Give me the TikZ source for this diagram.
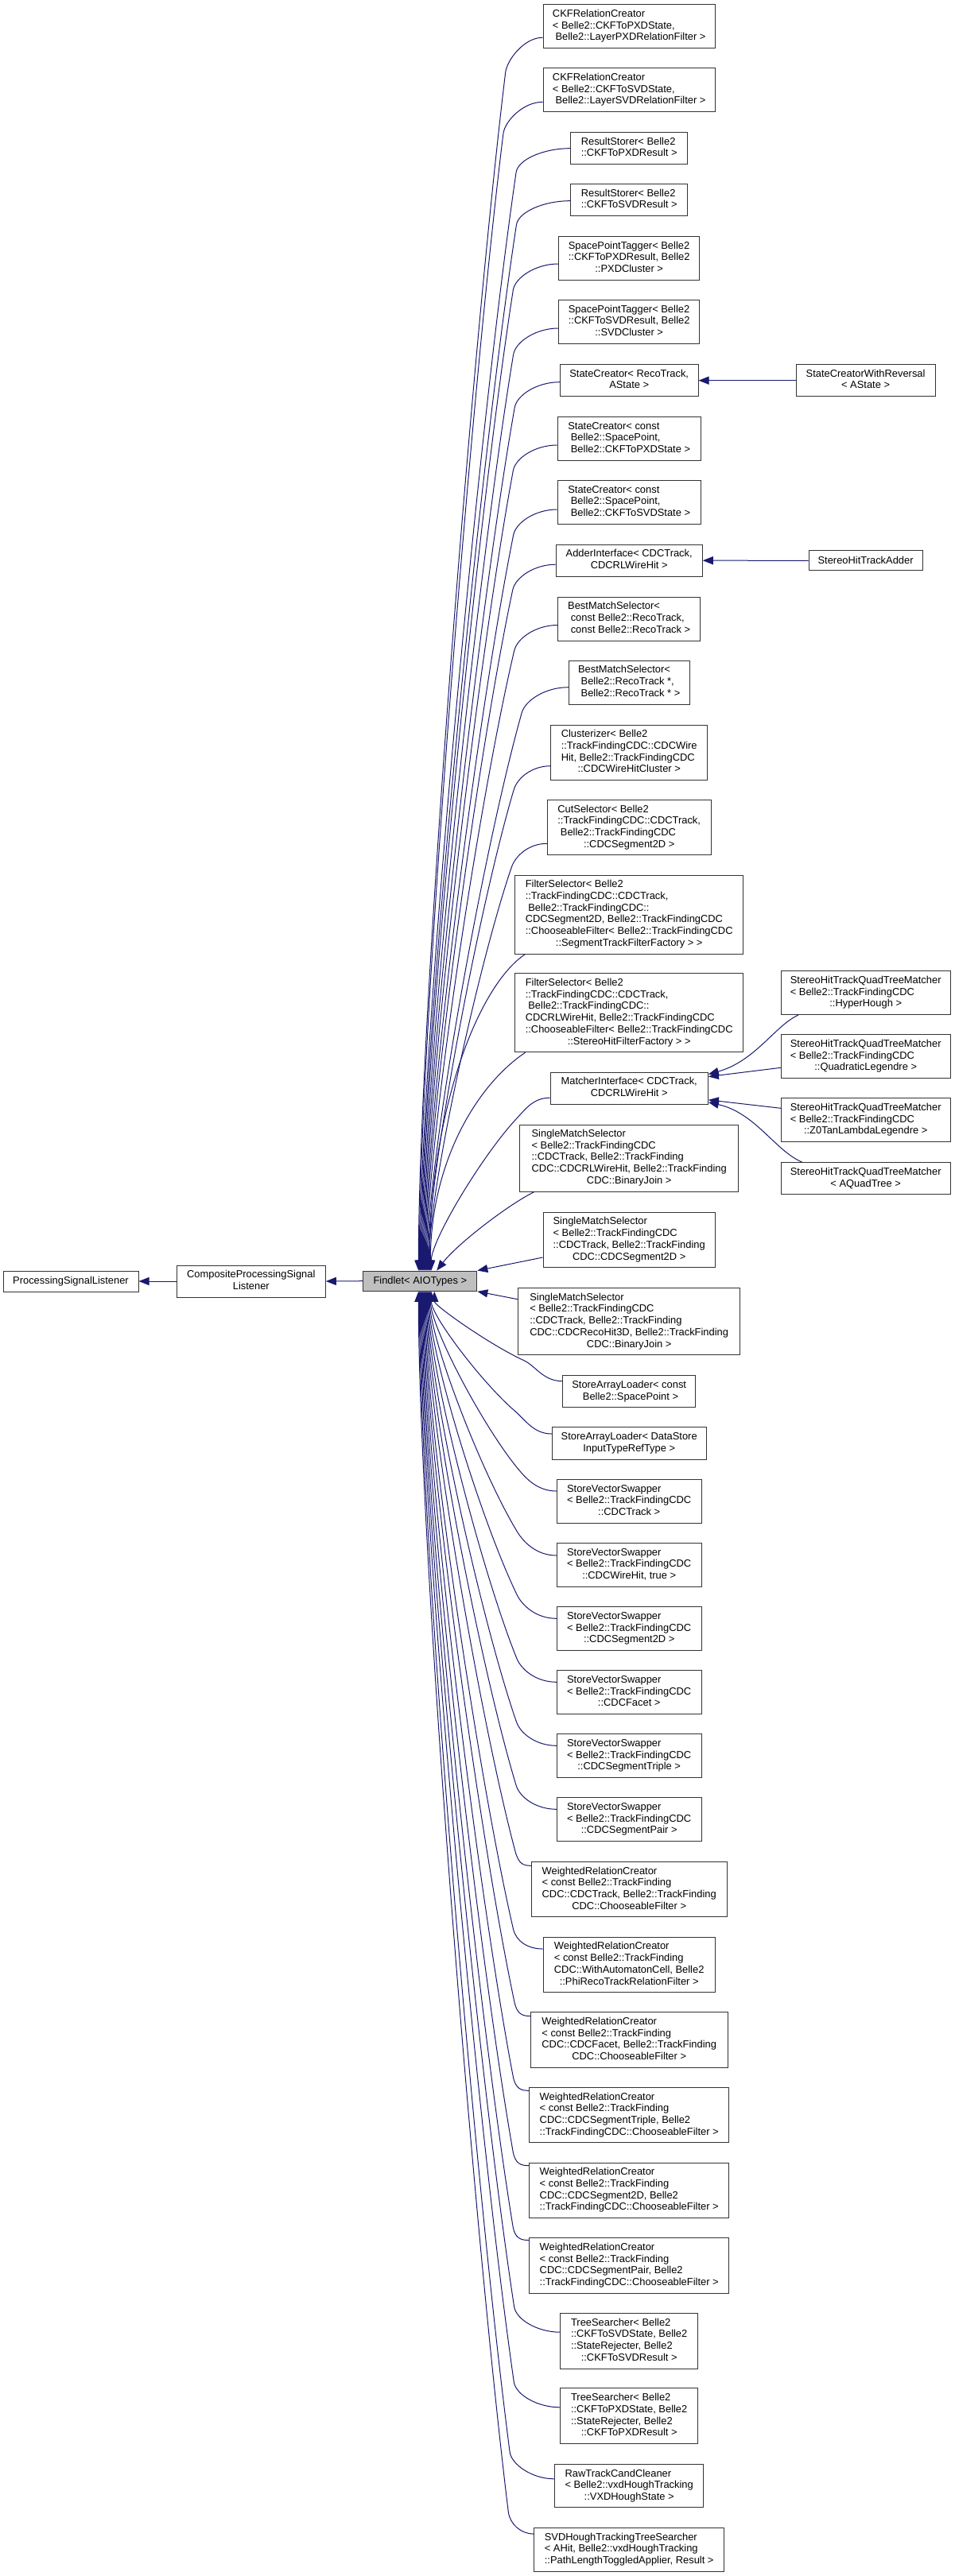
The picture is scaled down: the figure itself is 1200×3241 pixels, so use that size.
\documentclass[tikz,border=0pt]{standalone}
\usepackage{fontspec}
\setmainfont{Liberation Sans}
\usetikzlibrary{arrows.meta,calc}
\definecolor{edgec}{HTML}{191970}
\definecolor{boxline}{HTML}{333333}
\definecolor{mainfill}{HTML}{BFBFBF}
\newcommand{\dlab}[2]{\begin{tabular}{@{}l@{}}#1\\\multicolumn{1}{@{}c@{}}{#2}\end{tabular}}
% edge from a child (start #1) to Findlet (end #2): short bend (fraction #3 of the horizontal gap, vertical #4), then a long sweep arriving vertically
\newcommand{\famedge}[4]{\draw[inh] let \p1=(#1), \p2=(#2),
  \p3=({\x1-#3*(\x1-\x2)},{\y1+(#4)}),
  \p4=(\x2,{\y3+0.6*(\y2-\y3)}),
  \n1={veclen(\x4-\x3,\y4-\y3)}
  in (\p1) .. controls ({\x1-0.5*#3*(\x1-\x2)},\y1) and ({\x3-16*(\x4-\x3)/\n1},{\y3-16*(\y4-\y3)/\n1}) .. (\p3)
  .. controls ({\x3+0.4*(\x4-\x3)},{\y3+0.4*(\y4-\y3)}) and (\x2,{\y3+0.8*(\y2-\y3)}) .. (\p2);}
\newcommand{\fsedge}[2]{\draw[inh] let \p1=(#1), \p2=(#2) in (\p1) .. controls ({\x1-60pt},{\y1-40pt}) and (\x2,{0.5*(\y1+\y2)}) .. (\p2);}
\tikzset{
  box/.style={draw=boxline, fill=white, line width=1pt, inner sep=0pt, font=\fontsize{12.9}{14.7}\selectfont},
  inh/.style={draw=edgec, line width=1pt, -{Triangle[length=13pt,width=10pt,fill=edgec]}},
}
\begin{document}
\begin{tikzpicture}[x=1pt,y=-1pt]
\fill[white] (0,0) rectangle (1200,3241);
\useasboundingbox (0,0) rectangle (1200,3241);

% left chain
\node[box,minimum width=170pt,minimum height=26pt] (psl) at (89,1612) {ProcessingSignalListener};
\node[box,minimum width=187.1pt,minimum height=40pt] (cpsl) at (315.8,1612) {\dlab{CompositeProcessingSignal}{Listener}};
\node[box,fill=mainfill,minimum width=143.1pt,minimum height=25.3pt] (findlet) at (528.3,1611.7) {Findlet< AIOTypes >};

% column of derived classes
\node[box,minimum width=216.3pt,minimum height=55pt] (ckfP) at (791.2,33.2) {\dlab{CKFRelationCreator\\< Belle2::CKFToPXDState,}{~Belle2::LayerPXDRelationFilter >}};
\node[box,minimum width=216.3pt,minimum height=55pt] (ckfS) at (791.2,113.3) {\dlab{CKFRelationCreator\\< Belle2::CKFToSVDState,}{~Belle2::LayerSVDRelationFilter >}};
\node[box,minimum width=147.3pt,minimum height=40pt] (rsP) at (791.2,186.7) {\dlab{ResultStorer< Belle2}{::CKFToPXDResult >}};
\node[box,minimum width=147.3pt,minimum height=40pt] (rsS) at (791.2,251.7) {\dlab{ResultStorer< Belle2}{::CKFToSVDResult >}};
\node[box,minimum width=177.5pt,minimum height=54.7pt] (sptP) at (791.2,325) {\dlab{SpacePointTagger< Belle2\\::CKFToPXDResult, Belle2}{::PXDCluster >}};
\node[box,minimum width=177.5pt,minimum height=54.7pt] (sptS) at (791.2,405) {\dlab{SpacePointTagger< Belle2\\::CKFToSVDResult, Belle2}{::SVDCluster >}};
\node[box,minimum width=173.7pt,minimum height=40pt] (scR) at (791.2,478.7) {\dlab{StateCreator< RecoTrack,}{AState >}};
\node[box,minimum width=180.3pt,minimum height=54.7pt] (scP) at (791.2,552) {\dlab{StateCreator< const\\~Belle2::SpacePoint,}{~Belle2::CKFToPXDState >}};
\node[box,minimum width=180.3pt,minimum height=54.7pt] (scS) at (791.2,632) {\dlab{StateCreator< const\\~Belle2::SpacePoint,}{~Belle2::CKFToSVDState >}};
\node[box,minimum width=184.1pt,minimum height=40pt] (adder) at (791.2,705.2) {\dlab{AdderInterface< CDCTrack,}{CDCRLWireHit >}};
\node[box,minimum width=179.1pt,minimum height=55pt] (bmsC) at (791.2,778.5) {\dlab{BestMatchSelector<\\~const Belle2::RecoTrack,}{~const Belle2::RecoTrack >}};
\node[box,minimum width=151.9pt,minimum height=54.7pt] (bmsP) at (791.2,858.7) {\dlab{BestMatchSelector<\\~Belle2::RecoTrack *,}{~Belle2::RecoTrack * >}};
\node[box,minimum width=196.7pt,minimum height=69.3pt] (clus) at (791.2,946.7) {\dlab{Clusterizer< Belle2\\::TrackFindingCDC::CDCWire\\Hit, Belle2::TrackFindingCDC}{::CDCWireHitCluster >}};
\node[box,minimum width=205.9pt,minimum height=69.3pt] (cut) at (791.2,1041.3) {\dlab{CutSelector< Belle2\\::TrackFindingCDC::CDCTrack,\\~Belle2::TrackFindingCDC}{::CDCSegment2D >}};
\node[box,minimum width=287.4pt,minimum height=99pt] (fsS) at (791.2,1150.5) {\dlab{FilterSelector< Belle2\\::TrackFindingCDC::CDCTrack,\\~Belle2::TrackFindingCDC::\\CDCSegment2D, Belle2::TrackFindingCDC\\::ChooseableFilter< Belle2::TrackFindingCDC}{::SegmentTrackFilterFactory > >}};
\node[box,minimum width=287.4pt,minimum height=99pt] (fsR) at (791.2,1274.3) {\dlab{FilterSelector< Belle2\\::TrackFindingCDC::CDCTrack,\\~Belle2::TrackFindingCDC::\\CDCRLWireHit, Belle2::TrackFindingCDC\\::ChooseableFilter< Belle2::TrackFindingCDC}{::StereoHitFilterFactory > >}};
\node[box,minimum width=198.3pt,minimum height=40.3pt] (match) at (791.2,1369.2) {\dlab{MatcherInterface< CDCTrack,}{CDCRLWireHit >}};
\node[box,minimum width=274.7pt,minimum height=84pt] (smsR) at (791.2,1457) {\dlab{SingleMatchSelector\\< Belle2::TrackFindingCDC\\::CDCTrack, Belle2::TrackFinding\\CDC::CDCRLWireHit, Belle2::TrackFinding}{CDC::BinaryJoin >}};
\node[box,minimum width=216.3pt,minimum height=69.3pt] (smsS) at (791.2,1560) {\dlab{SingleMatchSelector\\< Belle2::TrackFindingCDC\\::CDCTrack, Belle2::TrackFinding}{CDC::CDCSegment2D >}};
\node[box,minimum width=279.3pt,minimum height=84pt] (smsH) at (791.2,1662.7) {\dlab{SingleMatchSelector\\< Belle2::TrackFindingCDC\\::CDCTrack, Belle2::TrackFinding\\CDC::CDCRecoHit3D, Belle2::TrackFinding}{CDC::BinaryJoin >}};
\node[box,minimum width=166.9pt,minimum height=40pt] (salS) at (791.2,1750.7) {\dlab{StoreArrayLoader< const}{~Belle2::SpacePoint >}};
\node[box,minimum width=193.7pt,minimum height=40.6pt] (salD) at (791.2,1816) {\dlab{StoreArrayLoader< DataStore}{InputTypeRefType >}};
\node[box,minimum width=181.8pt,minimum height=54.7pt] (svsA) at (791.2,1889) {\dlab{StoreVectorSwapper\\< Belle2::TrackFindingCDC}{::CDCTrack >}};
\node[box,minimum width=181.8pt,minimum height=54.7pt] (svsB) at (791.2,1969) {\dlab{StoreVectorSwapper\\< Belle2::TrackFindingCDC}{::CDCWireHit, true >}};
\node[box,minimum width=181.8pt,minimum height=54.7pt] (svsC) at (791.2,2049.3) {\dlab{StoreVectorSwapper\\< Belle2::TrackFindingCDC}{::CDCSegment2D >}};
\node[box,minimum width=181.8pt,minimum height=54.7pt] (svsD) at (791.2,2129.3) {\dlab{StoreVectorSwapper\\< Belle2::TrackFindingCDC}{::CDCFacet >}};
\node[box,minimum width=181.8pt,minimum height=54.7pt] (svsE) at (791.2,2209.3) {\dlab{StoreVectorSwapper\\< Belle2::TrackFindingCDC}{::CDCSegmentTriple >}};
\node[box,minimum width=181.8pt,minimum height=54.7pt] (svsF) at (791.2,2289.3) {\dlab{StoreVectorSwapper\\< Belle2::TrackFindingCDC}{::CDCSegmentPair >}};
\node[box,minimum width=245.7pt,minimum height=69.3pt] (wrcT) at (791.2,2377.3) {\dlab{WeightedRelationCreator\\< const Belle2::TrackFinding\\CDC::CDCTrack, Belle2::TrackFinding}{CDC::ChooseableFilter >}};
\node[box,minimum width=216.3pt,minimum height=69.3pt] (wrcA) at (791.2,2472) {\dlab{WeightedRelationCreator\\< const Belle2::TrackFinding\\CDC::WithAutomatonCell, Belle2}{::PhiRecoTrackRelationFilter >}};
\node[box,minimum width=247.6pt,minimum height=69.6pt] (wrcF) at (791.2,2566.5) {\dlab{WeightedRelationCreator\\< const Belle2::TrackFinding\\CDC::CDCFacet, Belle2::TrackFinding}{CDC::ChooseableFilter >}};
\node[box,minimum width=251.1pt,minimum height=69.3pt] (wrcTr) at (791.2,2661.3) {\dlab{WeightedRelationCreator\\< const Belle2::TrackFinding\\CDC::CDCSegmentTriple, Belle2}{::TrackFindingCDC::ChooseableFilter >}};
\node[box,minimum width=251.1pt,minimum height=69.3pt] (wrcS) at (791.2,2755.7) {\dlab{WeightedRelationCreator\\< const Belle2::TrackFinding\\CDC::CDCSegment2D, Belle2}{::TrackFindingCDC::ChooseableFilter >}};
\node[box,minimum width=251.1pt,minimum height=69.3pt] (wrcP) at (791.2,2850.5) {\dlab{WeightedRelationCreator\\< const Belle2::TrackFinding\\CDC::CDCSegmentPair, Belle2}{::TrackFindingCDC::ChooseableFilter >}};
\node[box,minimum width=172.6pt,minimum height=69.7pt] (tsS) at (791.2,2945.2) {\dlab{TreeSearcher< Belle2\\::CKFToSVDState, Belle2\\::StateRejecter, Belle2}{::CKFToSVDResult >}};
\node[box,minimum width=172.6pt,minimum height=69.7pt] (tsP) at (791.2,3039.8) {\dlab{TreeSearcher< Belle2\\::CKFToPXDState, Belle2\\::StateRejecter, Belle2}{::CKFToPXDResult >}};
\node[box,minimum width=187.1pt,minimum height=54.3pt] (rtcc) at (791.2,3127.8) {\dlab{RawTrackCandCleaner\\< Belle2::vxdHoughTracking}{::VXDHoughState >}};
\node[box,minimum width=239.2pt,minimum height=54.6pt] (svdh) at (791.2,3208) {\dlab{SVDHoughTrackingTreeSearcher\\< AHit, Belle2::vxdHoughTracking}{::PathLengthToggledApplier, Result >}};

% right column
\node[box,minimum width=174.9pt,minimum height=40pt] (scwr) at (1088.6,478.7) {\dlab{StateCreatorWithReversal}{< AState >}};
\node[box,minimum width=142.8pt,minimum height=25.3pt] (shta) at (1088.6,705.3) {StereoHitTrackAdder};
\node[box,minimum width=212.8pt,minimum height=54.7pt] (shH) at (1088.7,1249.3) {\dlab{StereoHitTrackQuadTreeMatcher\\< Belle2::TrackFindingCDC}{::HyperHough >}};
\node[box,minimum width=212.8pt,minimum height=54.7pt] (shQ) at (1088.7,1329.3) {\dlab{StereoHitTrackQuadTreeMatcher\\< Belle2::TrackFindingCDC}{::QuadraticLegendre >}};
\node[box,minimum width=212.8pt,minimum height=54.7pt] (shZ) at (1088.7,1409.3) {\dlab{StereoHitTrackQuadTreeMatcher\\< Belle2::TrackFindingCDC}{::Z0TanLambdaLegendre >}};
\node[box,minimum width=212.8pt,minimum height=40pt] (shA) at (1088.7,1482.7) {\dlab{StereoHitTrackQuadTreeMatcher}{< AQuadTree >}};

% left chain edges
\draw[inh] (cpsl.west) -- (psl.east);
\draw[inh] (findlet.west) -- (cpsl.east);

% edges arriving at the top of Findlet
\famedge{$(ckfP.west)+(0,14)$}{$(findlet.north)+(-2,0)$}{0.3}{-44}
\famedge{$(ckfS.west)+(0,15)$}{$(findlet.north)+(-1,0)$}{0.32}{-40}
\famedge{$(rsP.west)+(0,0)$}{$(findlet.north)+(0,0)$}{0.36}{-30}
\famedge{$(rsS.west)+(0,1)$}{$(findlet.north)+(1,0)$}{0.36}{-30}
\famedge{$(sptP.west)+(0,7)$}{$(findlet.north)+(2,0)$}{0.33}{-33}
\famedge{$(sptS.west)+(0,8)$}{$(findlet.north)+(3,0)$}{0.33}{-33}
\famedge{$(scR.west)+(0,2)$}{$(findlet.north)+(4,0)$}{0.33}{-32}
\famedge{$(scP.west)+(0,8)$}{$(findlet.north)+(5,0)$}{0.33}{-32}
\famedge{$(scS.west)+(0,9)$}{$(findlet.north)+(6,0)$}{0.33}{-32}
\famedge{$(adder.west)+(0,5)$}{$(findlet.north)+(7,0)$}{0.33}{-32}
\famedge{$(bmsC.west)+(0,8)$}{$(findlet.north)+(8,0)$}{0.33}{-32}
\famedge{$(bmsP.west)+(0,6)$}{$(findlet.north)+(9,0)$}{0.33}{-32}
\famedge{$(clus.west)+(0,17)$}{$(findlet.north)+(10,0)$}{0.3}{-30}
\famedge{$(cut.west)+(0,20)$}{$(findlet.north)+(11,0)$}{0.3}{-30}
\fsedge{$(fsS.south west)+(13.5,0)$}{$(findlet.north)+(12,0)$}
\fsedge{$(fsR.south west)+(13.5,0)$}{$(findlet.north)+(13,0)$}
\famedge{$(match.west)+(0,12)$}{$(findlet.north)+(14,0)$}{0.28}{-26}
\draw[inh] ($(smsR.south west)+(18.7,0)$) .. controls (640,1515) and (575,1565) .. ($(findlet.north)+(21,0)$);
\draw[inh] ($(smsS.west)+(0,22)$) -- (findlet.north east);
\draw[inh] ($(smsH.west)+(0,-28)$) -- (findlet.south east);

% edges arriving at the bottom of Findlet
\famedge{$(salS.west)+(0,-13)$}{$(findlet.south)+(18,0)$}{0.3}{26}
\famedge{$(salD.west)+(0,-12)$}{$(findlet.south)+(14,0)$}{0.3}{28}
\famedge{$(svsA.west)+(0,-13)$}{$(findlet.south)+(13,0)$}{0.31}{29}
\famedge{$(svsB.west)+(0,-12)$}{$(findlet.south)+(12,0)$}{0.31}{30}
\famedge{$(svsC.west)+(0,-13)$}{$(findlet.south)+(11,0)$}{0.31}{30}
\famedge{$(svsD.west)+(0,-13)$}{$(findlet.south)+(10,0)$}{0.31}{30}
\famedge{$(svsE.west)+(0,-13)$}{$(findlet.south)+(9,0)$}{0.31}{30}
\famedge{$(svsF.west)+(0,-13)$}{$(findlet.south)+(8,0)$}{0.31}{30}
\famedge{$(wrcT.west)+(0,-30)$}{$(findlet.south)+(7,0)$}{0.15}{18}
\famedge{$(wrcA.west)+(0,-20)$}{$(findlet.south)+(6,0)$}{0.25}{25}
\famedge{$(wrcF.west)+(0,-30)$}{$(findlet.south)+(5,0)$}{0.15}{18}
\famedge{$(wrcTr.west)+(0,-31)$}{$(findlet.south)+(4,0)$}{0.15}{18}
\famedge{$(wrcS.west)+(0,-31)$}{$(findlet.south)+(3,0)$}{0.15}{18}
\famedge{$(wrcP.west)+(0,-32)$}{$(findlet.south)+(2,0)$}{0.15}{18}
\famedge{$(tsS.west)+(0,-11)$}{$(findlet.south)+(1,0)$}{0.33}{32}
\famedge{$(tsP.west)+(0,-11)$}{$(findlet.south)+(0,0)$}{0.33}{32}
\famedge{$(rtcc.west)+(0,-9)$}{$(findlet.south)+(-1,0)$}{0.33}{34}
\famedge{$(svdh.west)+(0,-20)$}{$(findlet.south)+(-2,0)$}{0.22}{28}

% right side edges
\draw[inh] (scwr.west) -- (scR.east);
\draw[inh] (shta.west) -- (adder.east);
\draw[inh] ($(shH.south west)+(22,0)$) .. controls (975,1290) and (950,1335) .. ($(match.north east)+(0,3)$);
\draw[inh] ($(shQ.west)+(0,14)$) -- ($(match.north east)+(0,6)$);
\draw[inh] ($(shZ.west)+(0,-15)$) -- ($(match.south east)+(0,-6)$);
\draw[inh] ($(shA.north west)+(27,0)$) .. controls (975,1448) and (950,1400) .. ($(match.south east)+(0,-3)$);
\end{tikzpicture}
\end{document}
